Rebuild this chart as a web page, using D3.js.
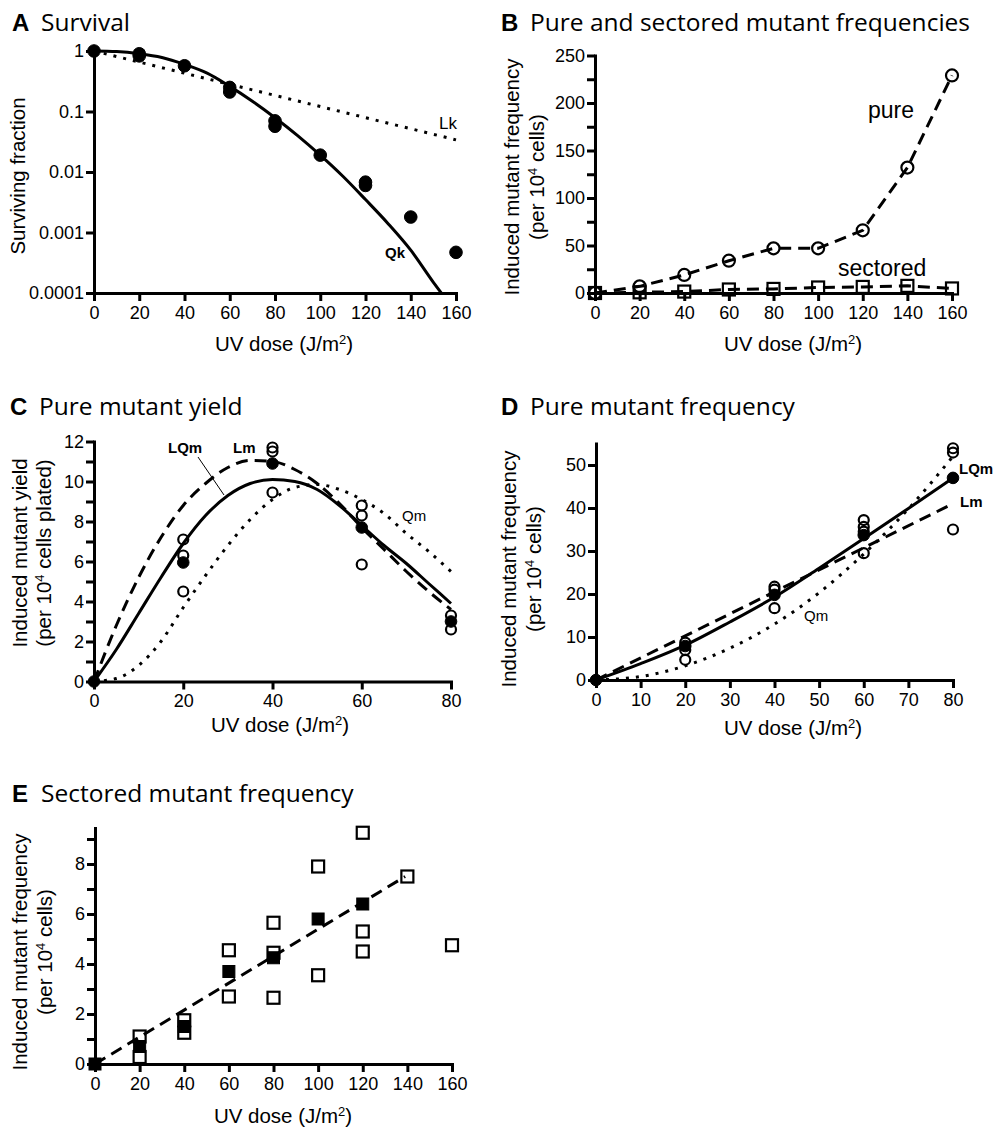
<!DOCTYPE html>
<html>
<head>
<meta charset="utf-8">
<script src="https://cdnjs.cloudflare.com/ajax/libs/d3/7.8.5/d3.min.js"></script>
<style>
  body { margin: 0; background: #fff; }
</style>
</head>
<body>
<svg id="chart" width="994" height="1128"></svg>
<script>
// ---------- data ----------
// A  survival
const survDose = [0, 20, 20, 40, 60, 60, 80, 80, 100, 120, 120, 140, 160];
const survFrac = [1, 0.90, 0.83, 0.57, 0.25, 0.21, 0.070, 0.057, 0.019, 0.0068, 0.0060, 0.0018, 0.00047];
const qkDose = [0, 10, 20, 30, 40, 50, 60, 70, 80, 90, 100, 110, 120, 130, 140, 150, 153.5];
const qkFrac = [1, 0.977, 0.90, 0.78, 0.60, 0.43, 0.26, 0.148, 0.079, 0.040, 0.019, 0.0085, 0.0035, 0.0014, 0.00051, 0.00015, 0.0001];
const lkDose = [0, 160];
const lkFrac = [1, 0.034];
const survTicks = [0.0001, 0.001, 0.01, 0.1, 1];
const survTickLabels = ["0.0001", "0.001", "0.01", "0.1", "1"];

// B  pure and sectored
const bDose = [0, 20, 40, 60, 80, 100, 120, 140, 160];
const pureFreq = [0, 7, 19, 34, 47, 47, 66, 132, 229];
const sectFreq = [0, 0.7, 1.5, 3.7, 4.3, 5.8, 6.4, 7.5, 4.8];

// C  pure mutant yield
const cOpenDose = [20, 20, 20, 40, 40, 40, 60, 60, 60, 80, 80];
const cOpenYield = [7.1, 6.3, 4.5, 11.7, 11.5, 9.45, 8.8, 8.3, 5.85, 3.3, 2.6];
const cMeanDose = [0, 20, 40, 60, 80];
const cMeanYield = [0, 5.95, 10.9, 7.7, 3.0];
const cCurveDose = [0, 5, 10, 15, 20, 25, 30, 35, 40, 45, 50, 55, 60, 65, 70, 75, 80];
const cLQm = [0, 1.6, 3.4, 5.2, 6.9, 8.3, 9.3, 9.9, 10.1, 10.0, 9.6, 8.8, 7.8, 6.8, 5.9, 4.9, 3.9];
const cLm = [0, 2.8, 5.2, 7.2, 8.8, 9.9, 10.7, 11.05, 11.0, 10.6, 9.9, 8.9, 7.7, 6.6, 5.5, 4.5, 3.6];
const cQm = [0, 0.15, 0.8, 2.0, 3.7, 5.3, 6.8, 8.1, 9.1, 9.7, 9.85, 9.6, 9.1, 8.4, 7.4, 6.5, 5.5];

// D  pure mutant frequency
const dOpenDose = [20, 20, 20, 40, 40, 40, 60, 60, 60, 60, 80, 80, 80];
const dOpenFreq = [8.7, 7.0, 4.7, 21.7, 21.0, 16.7, 37.2, 35.6, 34.5, 29.5, 53.9, 52.9, 35.0];
const dMeanDose = [0, 20, 40, 60, 80];
const dMeanFreq = [0, 7.9, 19.8, 33.7, 47.0];
const dCurveDose = [0, 10, 20, 30, 40, 50, 60, 70, 80];
const dLQm = [0, 3.8, 8.1, 13.5, 19.3, 26.0, 32.9, 39.9, 47.0];
const dQm = [0, 0.8, 3.3, 7.4, 13.0, 20.3, 29.3, 39.8, 52.0];
const dLmDose = [0, 80];
const dLm = [0, 41];

// E  sectored mutant frequency
const eOpenDose = [20, 20, 40, 40, 60, 60, 80, 80, 80, 100, 100, 120, 120, 120, 140, 160];
const eOpenFreq = [1.1, 0.28, 1.75, 1.25, 4.55, 2.7, 5.65, 4.45, 2.65, 7.9, 3.55, 9.25, 5.3, 4.5, 7.5, 4.75];
const eMeanDose = [0, 20, 40, 60, 80, 100, 120];
const eMeanFreq = [0, 0.7, 1.5, 3.7, 4.25, 5.8, 6.4];
const eFitDose = [0, 139];
const eFitFreq = [0, 7.5];

// ---------- drawing ----------
const svg = d3.select("#chart");
const FONT = "'Liberation Sans', Arimo, Arial, sans-serif";
const TITLE_FONT = "'Open Sans', sans-serif";
const DASH = "12 7";
const DOT = "3 7";

const zip = (xs, ys) => xs.map((v, i) => [v, ys[i]]);

function addAxes(x, y, xTicks, xFmt, yTicks, yFmt) {
    const gx = svg.append("g")
        .attr("transform", `translate(0,${y.range()[0]})`)
        .call(d3.axisBottom(x).tickValues(xTicks).tickFormat(xFmt)
            .tickSize(8).tickSizeOuter(0).tickPadding(5));
    const gy = svg.append("g")
        .attr("transform", `translate(${x.range()[0]},0)`)
        .call(d3.axisLeft(y).tickValues(yTicks).tickFormat(yFmt)
            .tickSize(8).tickSizeOuter(0).tickPadding(2));
    [gx, gy].forEach(g => {
        g.attr("font-family", FONT).attr("font-size", 18);
        g.select(".domain").attr("stroke", "#000").attr("stroke-width", 3)
            .attr("stroke-linecap", "square");
        g.selectAll(".tick line").attr("stroke", "#000").attr("stroke-width", 3);
        g.selectAll(".tick text").attr("fill", "#000");
    });
}

function title(letter, name, x, y) {
    svg.append("text").attr("x", x).attr("y", y)
        .attr("font-family", FONT).attr("font-weight", "bold")
        .attr("font-size", 24).text(letter);
    svg.append("text").attr("x", x + 29).attr("y", y)
        .attr("font-family", TITLE_FONT).attr("font-size", 24.5).text(name);
}

function xTitle(cx, y) {
    const t = svg.append("text").attr("x", cx).attr("y", y)
        .attr("text-anchor", "middle")
        .attr("font-family", FONT).attr("font-size", 20.5);
    t.append("tspan").text("UV dose (J/m");
    t.append("tspan").attr("font-size", 13).attr("baseline-shift", "super").text("2");
    t.append("tspan").text(")");
}

function yTitle(lines, xs, cy) {
    lines.forEach((ln, i) => {
        const t = svg.append("text")
            .attr("transform", `translate(${xs[i]},${cy}) rotate(-90)`)
            .attr("text-anchor", "middle")
            .attr("font-family", FONT).attr("font-size", 20.5);
        if (Array.isArray(ln)) {
            t.append("tspan").text(ln[0]);
            t.append("tspan").attr("font-size", 13).attr("baseline-shift", "super").text(ln[1]);
            t.append("tspan").text(ln[2]);
        } else {
            t.text(ln);
        }
    });
}

function curve(x, y, pts, dash, smooth) {
    svg.append("path")
        .attr("d", d3.line()
            .x(d => x(d[0])).y(d => y(d[1]))
            .curve(smooth ? d3.curveMonotoneX : d3.curveLinear)(pts))
        .attr("fill", "none")
        .attr("stroke", "#000")
        .attr("stroke-width", 3)
        .attr("stroke-dasharray", dash);
}

function circles(x, y, pts, r, filled) {
    svg.append("g").selectAll("circle")
        .data(pts).join("circle")
        .attr("cx", d => x(d[0])).attr("cy", d => y(d[1]))
        .attr("r", r)
        .attr("fill", filled ? "#000" : "none")
        .attr("stroke", "#000")
        .attr("stroke-width", filled ? 1 : 2.2);
}

function squares(x, y, pts, s, filled) {
    svg.append("g").selectAll("rect")
        .data(pts).join("rect")
        .attr("x", d => x(d[0]) - s / 2).attr("y", d => y(d[1]) - s / 2)
        .attr("width", s).attr("height", s)
        .attr("fill", filled ? "#000" : "none")
        .attr("stroke", "#000")
        .attr("stroke-width", filled ? 1 : 2.2);
}

function label(txt, x, y, size, bold) {
    svg.append("text").attr("x", x).attr("y", y)
        .attr("font-family", FONT).attr("font-size", size)
        .attr("font-weight", bold ? "bold" : "normal")
        .text(txt);
}

const doseFmt = d => String(d);

// ---- A ----
{
    const x = d3.scaleLinear().domain([0, 160]).range([94, 456]);
    const y = d3.scaleLog().domain([0.0001, 1]).range([293, 51]);
    addAxes(x, y, d3.range(0, 161, 20), doseFmt, survTicks, (d, i) => survTickLabels[i]);
    curve(x, y, zip(lkDose, lkFrac), DOT, false);
    curve(x, y, zip(qkDose, qkFrac), null, true);
    circles(x, y, zip(survDose, survFrac), 6.3, true);
    label("Lk", 439, 129, 17, false);
    label("Qk", 385, 258, 15, true);
    title("A", "Survival", 12, 31);
    xTitle(284, 351);
    yTitle(["Surviving fraction"], [25], 176);
}

// ---- B ----
{
    const x = d3.scaleLinear().domain([0, 160]).range([595, 952]);
    const y = d3.scaleLinear().domain([0, 250]).range([293, 55.5]);
    addAxes(x, y, d3.range(0, 161, 20), doseFmt, d3.range(0, 251, 25), d => d % 50 === 0 ? d : "");
    curve(x, y, zip(bDose, pureFreq), DASH, false);
    curve(x, y, zip(bDose, sectFreq), DASH, false);
    circles(x, y, zip(bDose, pureFreq), 6, false);
    squares(x, y, zip(bDose, sectFreq), 12, false);
    label("pure", 868, 118, 23, false);
    label("sectored", 838, 276, 23, false);
    title("B", "Pure and sectored mutant frequencies", 501, 31);
    xTitle(793, 351);
    yTitle(["Induced mutant frequency", ["(per 10", "4", " cells)"]], [519, 544], 177);
}

// ---- C ----
{
    const x = d3.scaleLinear().domain([0, 80]).range([94, 451]);
    const y = d3.scaleLinear().domain([0, 12]).range([681.5, 441.5]);
    addAxes(x, y, d3.range(0, 81, 20), doseFmt, d3.range(0, 13, 1), d => d % 2 === 0 ? d : "");
    curve(x, y, zip(cCurveDose, cQm), DOT, true);
    curve(x, y, zip(cCurveDose, cLm), DASH, true);
    curve(x, y, zip(cCurveDose, cLQm), null, true);
    circles(x, y, zip(cOpenDose, cOpenYield), 5, false);
    circles(x, y, zip(cMeanDose, cMeanYield), 5.8, true);
    label("LQm", 168, 453, 15, true);
    label("Lm", 233, 453, 15, true);
    label("Qm", 402, 521, 15, false);
    svg.append("line").attr("x1", 198).attr("y1", 457).attr("x2", 224).attr("y2", 495)
        .attr("stroke", "#000").attr("stroke-width", 1);
    title("C", "Pure mutant yield", 10, 415);
    xTitle(280, 732);
    yTitle(["Induced mutant yield", ["(per 10", "4", " cells plated)"]], [27, 51], 553);
}

// ---- D ----
{
    const x = d3.scaleLinear().domain([0, 80]).range([596, 953]);
    const y = d3.scaleLinear().domain([0, 55]).range([680, 443.5]);
    addAxes(x, y, d3.range(0, 81, 10), doseFmt, d3.range(0, 51, 10), doseFmt);
    curve(x, y, zip(dCurveDose, dQm), DOT, true);
    curve(x, y, zip(dLmDose, dLm), DASH, false);
    curve(x, y, zip(dCurveDose, dLQm), null, true);
    circles(x, y, zip(dOpenDose, dOpenFreq), 5, false);
    circles(x, y, zip(dMeanDose, dMeanFreq), 5.8, true);
    label("LQm", 959, 474, 15, true);
    label("Lm", 960, 507, 15, true);
    label("Qm", 804, 621, 15, false);
    title("D", "Pure mutant frequency", 501, 415);
    xTitle(793, 735);
    yTitle(["Induced mutant frequency", ["(per 10", "4", " cells)"]], [516, 541], 569);
}

// ---- E ----
{
    const x = d3.scaleLinear().domain([0, 160]).range([95, 452]);
    const y = d3.scaleLinear().domain([0, 9.44]).range([1064, 828]);
    addAxes(x, y, d3.range(0, 161, 20), doseFmt, d3.range(0, 10, 1), d => d % 2 === 0 ? d : "");
    curve(x, y, zip(eFitDose, eFitFreq), DASH, false);
    squares(x, y, zip(eOpenDose, eOpenFreq), 12, false);
    squares(x, y, zip(eMeanDose, eMeanFreq), 12, true);
    title("E", "Sectored mutant frequency", 12, 802);
    xTitle(283, 1123);
    yTitle(["Induced mutant frequency", ["(per 10", "4", " cells)"]], [27, 52], 952);
}
</script>
</body>
</html>
